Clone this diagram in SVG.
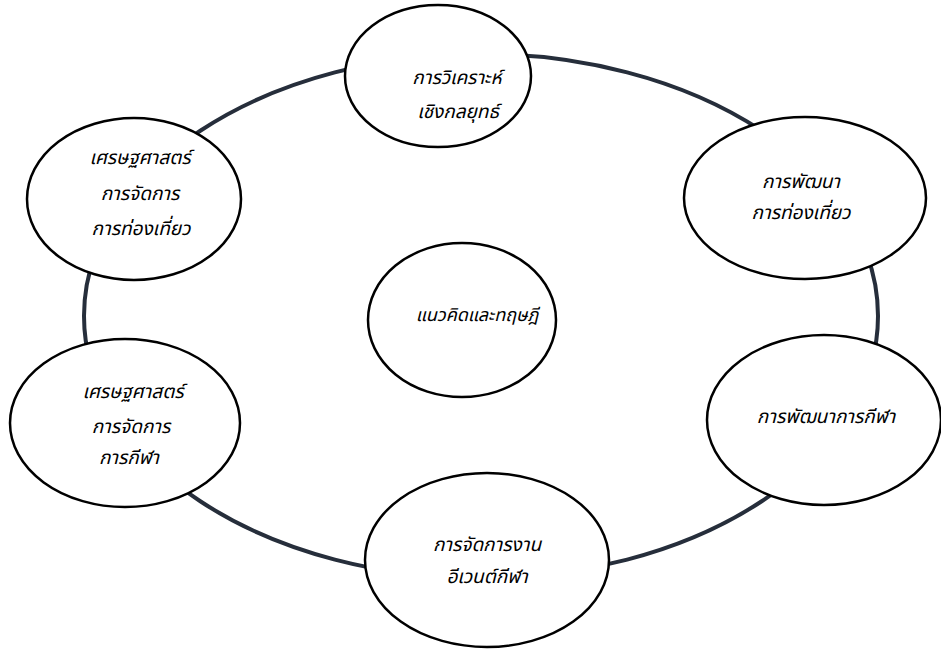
<svg xmlns="http://www.w3.org/2000/svg" width="941" height="651" viewBox="0 0 941 651">
  <style>
    .ring { fill: none; stroke: #262e3b; stroke-width: 4; }
    .node ellipse { fill: #ffffff; stroke: #000000; stroke-width: 2.5; }
    .node text { font-family: "Noto Sans Thai", "Noto Sans", "DejaVu Sans", sans-serif; font-size: 19px; font-style: italic; fill: #000000; text-anchor: middle; }
  </style>
  <rect width="941" height="651" fill="#ffffff"/>

  <!-- cycle ring linking the outer nodes -->
  <g id="connectors">
    <ellipse class="ring" cx="481" cy="316" rx="397" ry="262"/>
  </g>

  <g id="node-strategic" class="node">
    <ellipse cx="438" cy="76" rx="93" ry="71"/>
    <text x="457" y="84">การวิเคราะห์</text>
    <text x="458" y="118">เชิงกลยุทธ์</text>
  </g>

  <g id="node-tourism-dev" class="node">
    <ellipse cx="805" cy="198" rx="121" ry="81"/>
    <text x="801" y="188">การพัฒนา</text>
    <text x="801" y="219">การท่องเที่ยว</text>
  </g>

  <g id="node-sport-dev" class="node">
    <ellipse cx="824" cy="420" rx="117" ry="85"/>
    <text x="826" y="423">การพัฒนาการกีฬา</text>
  </g>

  <g id="node-sport-event" class="node">
    <ellipse cx="487" cy="560" rx="122" ry="87"/>
    <text x="487" y="551">การจัดการงาน</text>
    <text x="487" y="583">อีเวนต์กีฬา</text>
  </g>

  <g id="node-sport-econ" class="node">
    <ellipse cx="125" cy="423" rx="115" ry="84"/>
    <text x="133" y="398">เศรษฐศาสตร์</text>
    <text x="131" y="433">การจัดการ</text>
    <text x="129" y="464">การกีฬา</text>
  </g>

  <g id="node-tourism-econ" class="node">
    <ellipse cx="134" cy="199" rx="107" ry="81"/>
    <text x="140" y="164">เศรษฐศาสตร์</text>
    <text x="140" y="200">การจัดการ</text>
    <text x="141" y="235">การท่องเที่ยว</text>
  </g>

  <g id="node-theory" class="node">
    <ellipse cx="462" cy="320" rx="94" ry="77"/>
    <text x="477" y="321" style="font-size:18px">แนวคิดและทฤษฎี</text>
  </g>
</svg>
